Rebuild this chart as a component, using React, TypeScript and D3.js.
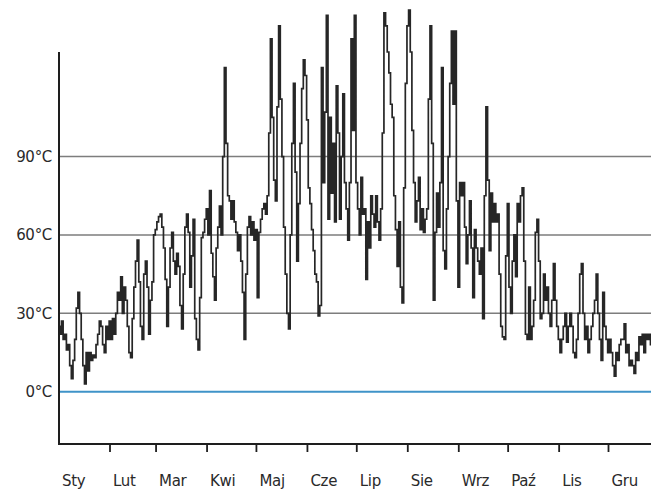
import React from "react";
import * as d3 from "d3";

const monthLabels = ["Sty", "Lut", "Mar", "Kwi", "Maj", "Cze", "Lip", "Sie", "Wrz", "Paź", "Lis", "Gru"];
const monthDays = [31, 28, 31, 30, 31, 30, 31, 31, 30, 31, 30, 31];
const yTicks = [0, 30, 60, 90];

const jan = [25, 22, 27, 20, 22, 16, 18, 10, 5, 12, 20, 32, 38, 30, 20, 10, 3, 15, 8, 15, 12, 14, 13, 18, 22, 27, 25, 18, 15, 25, 20];
const feb = [27, 20, 28, 22, 30, 38, 35, 44, 30, 40, 35, 25, 15, 13, 28, 40, 50, 58, 42, 25, 20, 45, 50, 40, 22, 35, 42, 60];
const mar = [62, 65, 67, 68, 63, 55, 43, 25, 40, 55, 61, 50, 45, 53, 48, 33, 24, 45, 63, 68, 61, 40, 52, 66, 28, 20, 16, 36, 59, 61, 66];
const apr = [70, 60, 77, 53, 44, 35, 55, 63, 71, 60, 90, 124, 95, 75, 73, 66, 73, 65, 61, 54, 60, 50, 38, 20, 45, 63, 67, 60, 65, 58];
const may = [62, 36, 61, 66, 70, 72, 68, 75, 99, 135, 105, 81, 73, 109, 140, 112, 90, 63, 45, 30, 24, 60, 95, 118, 84, 50, 72, 95, 116, 127, 121];
const jun = [104, 78, 72, 62, 54, 45, 42, 29, 33, 124, 80, 107, 144, 66, 105, 76, 95, 65, 117, 99, 66, 90, 114, 80, 70, 58, 80, 135, 100, 144];
const jul = [80, 70, 60, 82, 68, 70, 43, 65, 55, 75, 68, 63, 75, 65, 58, 70, 99, 145, 140, 130, 122, 110, 105, 75, 62, 48, 65, 40, 34, 78, 118];
const aug = [140, 146, 130, 100, 80, 65, 73, 82, 62, 70, 61, 66, 70, 112, 140, 95, 35, 61, 76, 63, 80, 124, 54, 47, 70, 90, 118, 138, 110, 138, 73];
const sep = [40, 80, 75, 80, 63, 49, 60, 73, 55, 36, 62, 55, 50, 45, 55, 28, 75, 109, 81, 54, 76, 65, 72, 65, 68, 45, 25, 21, 20, 52];
const oct = [72, 40, 30, 50, 60, 44, 72, 65, 75, 78, 50, 22, 20, 40, 20, 25, 35, 61, 66, 50, 28, 30, 45, 35, 40, 30, 25, 35, 49, 35, 25];
const nov = [20, 15, 20, 25, 30, 19, 25, 30, 25, 15, 13, 20, 30, 45, 49, 30, 20, 25, 15, 20, 25, 30, 35, 45, 30, 20, 12, 38, 25, 20];
const dec = [15, 20, 15, 10, 6, 15, 12, 18, 20, 20, 26, 15, 18, 10, 12, 10, 7, 15, 12, 21, 18, 22, 15, 22, 20, 22, 18, 20, 15, 18, 20];

const months = [jan, feb, mar, apr, may, jun, jul, aug, sep, oct, nov, dec];

const W = 651;
const H = 489;

export default function App() {
  const x = d3.scaleLinear().domain([0, 365]).range([59, 659.5]);
  const y = d3.scaleLinear().domain([-20, 130]).range([444, 52]);

  const monthStarts: number[] = [];
  let acc = 0;
  for (const d of monthDays) {
    monthStarts.push(acc);
    acc += d;
  }

  const points: [number, number][] = [];
  months.forEach((vals, m) => {
    vals.forEach((v, j) => points.push([monthStarts[m] + j, v]));
  });

  const line = d3
    .line<[number, number]>()
    .x((d) => x(d[0]))
    .y((d) => y(d[1]))
    .curve(d3.curveStep);

  const font = "'DejaVu Sans', Verdana, sans-serif";

  return (
    <svg
      width={W}
      height={H}
      style={{ position: "absolute", left: 0, top: 0, background: "#fff" }}
    >
      {yTicks.map((t) => (
        <g key={t}>
          <line
            x1={x(0)}
            x2={W}
            y1={y(t)}
            y2={y(t)}
            stroke={t === 0 ? "#3f93c8" : "#7d7d7d"}
            strokeWidth={t === 0 ? 2 : 1.5}
          />
          <text
            x={52}
            y={y(t)}
            dy="0.36em"
            textAnchor="end"
            fontFamily={font}
            fontSize={15}
            letterSpacing={-0.3}
            fill="#2a2a2a"
          >
            {t}°C
          </text>
        </g>
      ))}
      <path d={line(points) || ""} fill="none" stroke="#262626" strokeWidth={1.7} />
      <line x1={x(0)} x2={x(0)} y1={52} y2={445} stroke="#1e1e1e" strokeWidth={2} />
      <line x1={x(0) - 1} x2={W} y1={444} y2={444} stroke="#1e1e1e" strokeWidth={2} />
      {monthStarts.slice(1).map((s) => (
        <line key={s} x1={x(s)} x2={x(s)} y1={444} y2={452} stroke="#1e1e1e" strokeWidth={1.8} />
      ))}
      {monthLabels.map((lab, i) => (
        <text
          key={lab}
          x={x(monthStarts[i]) + 3}
          y={486}
          fontFamily={font}
          fontSize={15}
          letterSpacing={-0.3}
          fill="#2a2a2a"
        >
          {lab}
        </text>
      ))}
    </svg>
  );
}
